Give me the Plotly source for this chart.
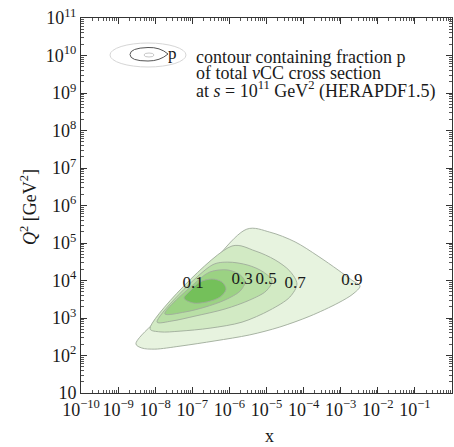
import numpy as np
import plotly.graph_objects as go

# ---- data (log10 x, log10 Q^2) ----
levels = ["0.9", "0.7", "0.5", "0.3", "0.1"]

c09_lx = [-8.52, -7.06, -5.53, -4.91, -4.23, -3.61, -3.07, -2.70, -2.48, -2.67, -3.07, -3.83, -4.64, -5.45, -6.39, -7.33, -8.01, -8.36, -8.52]
c09_lq = [2.31, 3.75, 5.37, 5.29, 5.03, 4.65, 4.28, 4.01, 3.85, 3.64, 3.40, 3.05, 2.76, 2.55, 2.39, 2.25, 2.17, 2.20, 2.31]

c07_lx = [-8.14, -5.93, -5.31, -4.77, -4.37, -4.18, -4.37, -4.91, -5.66, -6.52, -7.33, -7.87, -8.14]
c07_lq = [2.71, 4.92, 4.79, 4.55, 4.25, 3.91, 3.56, 3.21, 2.89, 2.73, 2.65, 2.63, 2.71]

c05_lx = [-7.95, -6.47, -6.04, -5.50, -5.09, -4.85, -5.01, -5.45, -6.12, -6.93, -7.55, -7.95]
c05_lq = [2.89, 4.41, 4.49, 4.41, 4.23, 3.99, 3.72, 3.48, 3.24, 3.05, 2.92, 2.89]

c03_lx = [-7.74, -6.93, -6.52, -6.04, -5.71, -5.58, -5.71, -6.12, -6.66, -7.20, -7.74]
c03_lq = [3.11, 3.93, 4.23, 4.28, 4.15, 3.96, 3.72, 3.48, 3.29, 3.16, 3.11]

c01_lx = [-7.22, -7.06, -6.79, -6.47, -6.20, -6.09, -6.25, -6.60, -6.98, -7.22]
c01_lq = [3.53, 3.72, 3.96, 4.04, 3.96, 3.77, 3.56, 3.43, 3.40, 3.53]

label_lx = [-6.98, -5.66, -5.01, -4.23, -2.70]
label_lq = [3.91, 4.01, 4.01, 3.91, 3.99]
label_txt = ["0.1", "0.3", "0.5", "0.7", "0.9"]

x_tick_exp = list(range(-10, 1))
x_tick_txt = ["10<sup>\u2212%d</sup>" % (-k) for k in range(-10, 0)] + [""]
y_tick_exp = list(range(1, 12))
y_tick_txt = ["10"] + ["10<sup>%d</sup>" % k for k in range(2, 12)]

# ---- styling ----
fills = ["#e7f3df", "#d2eac4", "#b9dfa6", "#9bd283", "#74c05a"]
edge = "rgba(160,172,155,0.9)"
FONT = "Liberation Serif"
TXT = "#1a1a1a"

fig = go.Figure()
contours = [(c09_lx, c09_lq), (c07_lx, c07_lq), (c05_lx, c05_lq), (c03_lx, c03_lq), (c01_lx, c01_lq)]
for (lx, lq), col, name in zip(contours, fills, levels):
    fig.add_trace(go.Scatter(
        x=10 ** np.array(lx), y=10 ** np.array(lq), mode="lines", fill="toself",
        fillcolor=col, line=dict(color=edge, width=1, shape="spline", smoothing=0.9),
        name=name, showlegend=False, hoverinfo="skip"))

fig.add_trace(go.Scatter(
    x=10 ** np.array(label_lx), y=10 ** np.array(label_lq), mode="text",
    text=label_txt, textfont=dict(family=FONT, size=17, color=TXT),
    showlegend=False, hoverinfo="skip"))

W, H = 454, 447
L, R, T, B = 81, 2, 18, 54
pw, ph = W - L - R, H - T - B

def px(xp):
    return (xp - L) / pw

def py(yp):
    return (H - B - yp) / ph

axis_common = dict(
    type="log", showgrid=False, zeroline=False, showline=True, linecolor="#333",
    linewidth=1, mirror="allticks", ticks="inside", ticklen=6, tickcolor="#333",
    tickfont=dict(family=FONT, size=18, color=TXT), tickmode="array",
    minor=dict(ticks="inside", ticklen=3, tickcolor="#555", dtick="D1", showgrid=False),
)

fig.update_xaxes(range=[-10, 0], tickvals=[10.0 ** k for k in x_tick_exp],
                 ticktext=x_tick_txt, **axis_common)
fig.update_yaxes(range=[1, 11], tickvals=[10.0 ** k for k in y_tick_exp],
                 ticktext=y_tick_txt, **axis_common)

annotations = [
    dict(text="x", x=0.507, y=py(436), xref="paper", yref="paper", showarrow=False,
         xanchor="center", yanchor="middle", font=dict(family=FONT, size=18, color=TXT)),
    dict(text="<i>Q</i><sup>2</sup> [GeV<sup>2</sup>]", x=px(28), y=py(207), xref="paper",
         yref="paper", showarrow=False, textangle=-90, xanchor="center", yanchor="middle",
         font=dict(family=FONT, size=18, color=TXT)),
    dict(text="contour containing fraction p", x=px(194), y=py(57), xref="paper", yref="paper",
         showarrow=False, xanchor="left", yanchor="middle", font=dict(family=FONT, size=18, color=TXT)),
    dict(text="of total <i>\u03bd</i>CC cross section", x=px(194), y=py(73), xref="paper", yref="paper",
         showarrow=False, xanchor="left", yanchor="middle", font=dict(family=FONT, size=18, color=TXT)),
    dict(text="at <i>s</i> = 10<sup>11</sup> GeV<sup>2</sup> (HERAPDF1.5)", x=px(194), y=py(90),
         xref="paper", yref="paper", showarrow=False, xanchor="left", yanchor="middle",
         font=dict(family=FONT, size=18, color=TXT)),
    dict(text="p", x=px(166), y=py(54), xref="paper", yref="paper", showarrow=False,
         xanchor="left", yanchor="middle", font=dict(family=FONT, size=17, color=TXT)),
]

mid_path = "M {a},{b} Q {c},{d} {e},{f} Q {g},{h} {g},{i} Q {g},{j} {e},{j} Q {c},{j} {a},{b} Z".format(
    a=px(168), b=py(54), c=px(160), d=py(47), e=px(148), f=py(47.5), g=px(130), h=py(48),
    i=py(54.5), j=py(61))

shapes = [
    dict(type="circle", xref="paper", yref="paper", x0=px(110), x1=px(186), y0=py(67), y1=py(43),
         line=dict(color="#d6d6d6", width=1)),
    dict(type="path", xref="paper", yref="paper", path=mid_path, line=dict(color="#555", width=1)),
    dict(type="circle", xref="paper", yref="paper", x0=px(144), x1=px(154), y0=py(57), y1=py(53),
         line=dict(color="#c8c8c8", width=1)),
]

fig.update_layout(
    width=W, height=H, autosize=False, margin=dict(l=L, r=R, t=T, b=B),
    paper_bgcolor="white", plot_bgcolor="white", annotations=annotations, shapes=shapes,
    font=dict(family=FONT),
)

fig.write_html("out.html")
